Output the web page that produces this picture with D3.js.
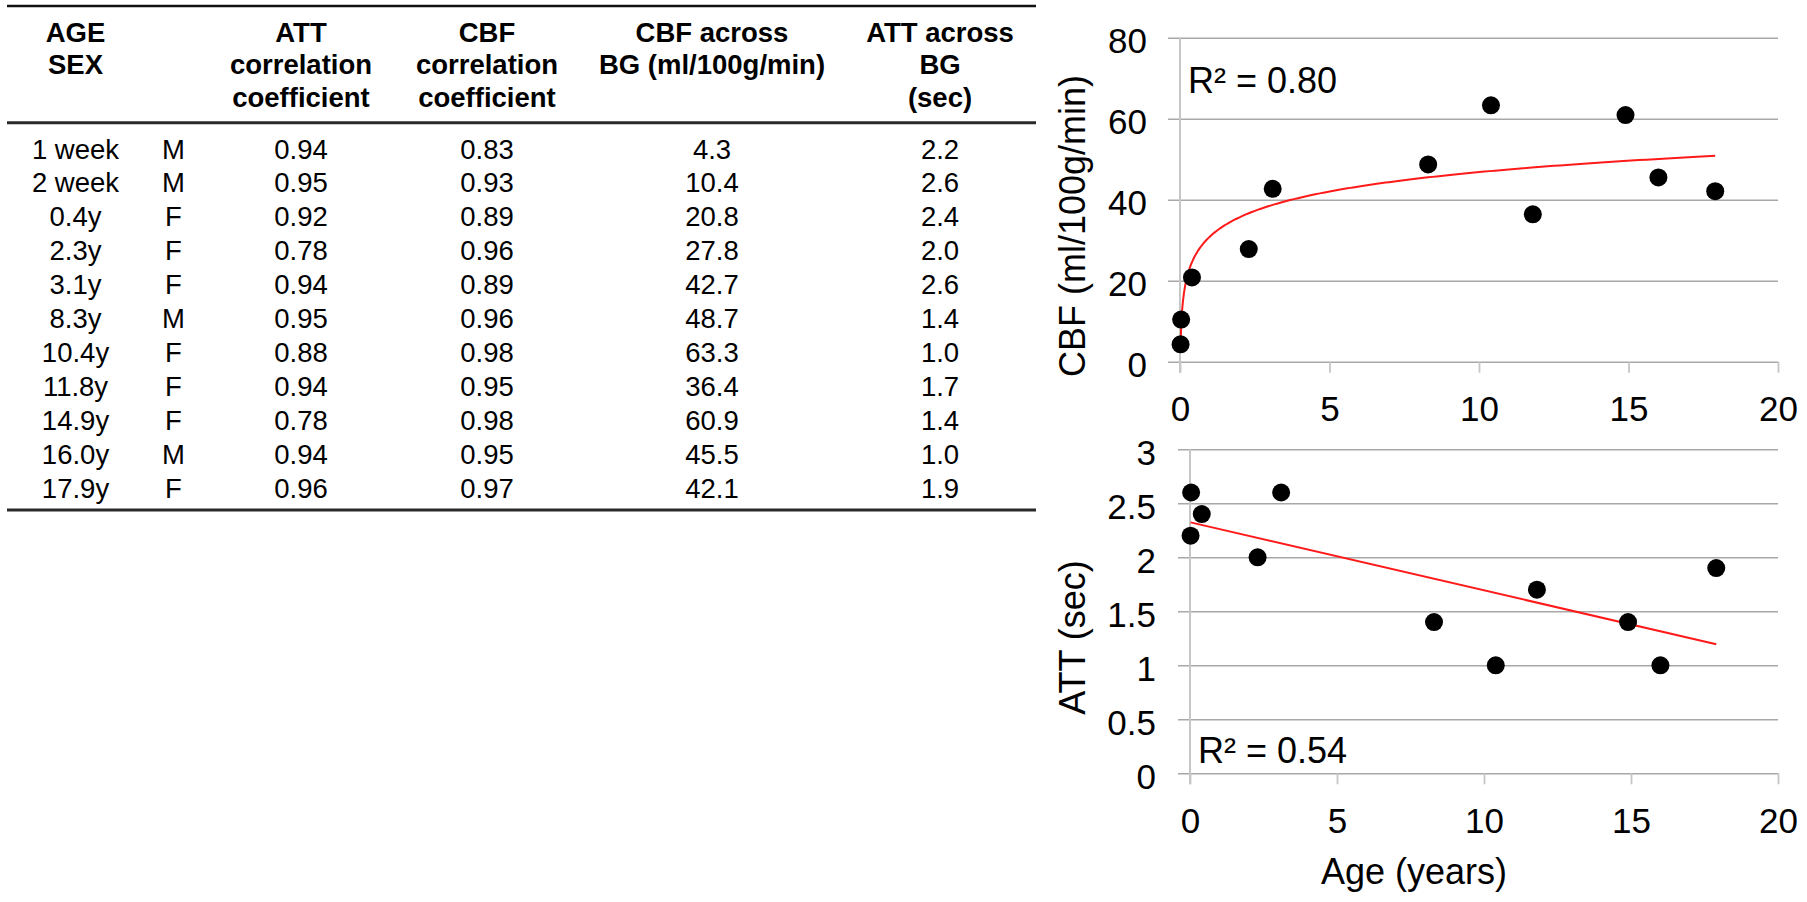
<!DOCTYPE html>
<html>
<head>
<meta charset="utf-8">
<script src="https://cdn.jsdelivr.net/npm/d3@7/dist/d3.min.js"></script>
<style>
  html, body { margin: 0; padding: 0; background: #fff; }
  svg { display: block; }
  text { font-family: "Liberation Sans", Arial, Helvetica, sans-serif; fill: #000; }
</style>
</head>
<body>
<svg id="chart" width="1807" height="902"></svg>
<script>
// ---------------- DATA ----------------
const ageLabels = ["1 week", "2 week", "0.4y", "2.3y", "3.1y", "8.3y", "10.4y", "11.8y", "14.9y", "16.0y", "17.9y"];
const sexLabels = ["M", "M", "F", "F", "F", "M", "F", "F", "F", "M", "F"];
const attCorr   = ["0.94", "0.95", "0.92", "0.78", "0.94", "0.95", "0.88", "0.94", "0.78", "0.94", "0.96"];
const cbfCorr   = ["0.83", "0.93", "0.89", "0.96", "0.89", "0.96", "0.98", "0.95", "0.98", "0.95", "0.97"];
const cbfBG     = [4.3, 10.4, 20.8, 27.8, 42.7, 48.7, 63.3, 36.4, 60.9, 45.5, 42.1];
const attBG     = [2.2, 2.6, 2.4, 2.0, 2.6, 1.4, 1.0, 1.7, 1.4, 1.0, 1.9];
const ageYears  = [7 / 365, 14 / 365, 0.4, 2.3, 3.1, 8.3, 10.4, 11.8, 14.9, 16.0, 17.9];

const headerLines = [
  ["AGE", "SEX"],
  [],
  ["ATT", "correlation", "coefficient"],
  ["CBF", "correlation", "coefficient"],
  ["CBF across", "BG (ml/100g/min)"],
  ["ATT across", "BG", "(sec)"]
];
const xTicks   = [0, 5, 10, 15, 20];
const cbfTicks = [0, 20, 40, 60, 80];
const attTicks = [0, 0.5, 1, 1.5, 2, 2.5, 3];
const cbfR2Label = "R² = 0.80";
const attR2Label = "R² = 0.54";
const cbfYTitle = "CBF (ml/100g/min)";
const attYTitle = "ATT (sec)";
const xTitle = "Age (years)";

// ---------------- LAYOUT ----------------
const svg = d3.select("#chart");
const FONT_T = 27.5;
const colX = [75.5, 173.5, 301, 487, 712, 940];
const tableLeft = 7, tableRight = 1036;
const headBase = [42, 74, 106.5];
const rowBase0 = 158.5, rowStep = 33.9;

// table rules
[[6, 2.5, "#111"], [122.7, 3, "#2a2a2a"], [510, 3, "#2a2a2a"]].forEach(([y, w, c]) => {
  svg.append("line").attr("x1", tableLeft).attr("x2", tableRight)
    .attr("y1", y).attr("y2", y).attr("stroke", c).attr("stroke-width", w);
});

// header
headerLines.forEach((lines, ci) => {
  lines.forEach((t, li) => {
    svg.append("text").attr("x", colX[ci]).attr("y", headBase[li])
      .attr("text-anchor", "middle").attr("font-weight", "bold")
      .attr("font-size", FONT_T).text(t);
  });
});

// rows
const cols = [ageLabels, sexLabels, attCorr, cbfCorr, cbfBG.map(d => d.toFixed(1)), attBG.map(d => d.toFixed(1))];
cols.forEach((col, ci) => {
  svg.append("g").selectAll("text").data(col).join("text")
    .attr("x", colX[ci]).attr("y", (d, i) => rowBase0 + rowStep * i)
    .attr("text-anchor", "middle").attr("font-size", FONT_T).text(d => d);
});

// ---------------- CHARTS ----------------
const FONT_C = 35;
const GRID = "#a8a8a8", AXIS = "#c6c6c6";

function regressionLinear(xs, ys) {
  const n = xs.length, mx = d3.mean(xs), my = d3.mean(ys);
  let sxy = 0, sxx = 0;
  for (let i = 0; i < n; i++) { sxy += (xs[i] - mx) * (ys[i] - my); sxx += (xs[i] - mx) ** 2; }
  const a = sxy / sxx; return { a, b: my - a * mx };
}

function drawPanel(opt) {
  const g = svg.append("g");
  const x = d3.scaleLinear().domain([0, 20]).range([opt.x0, opt.x1]);
  const y = d3.scaleLinear().domain(opt.yDomain).range([opt.yBottom, opt.yTop]);
  const gridStart = opt.x0 - 12;

  // y axis gridlines + labels
  const yAx = g.append("g").attr("transform", `translate(${gridStart},0)`)
    .call(d3.axisLeft(y).tickValues(opt.yTicks).tickSize(-(opt.x1 - gridStart)).tickSizeOuter(0)
      .tickPadding(opt.yPad).tickFormat(d => String(d)));
  yAx.select(".domain").remove();
  yAx.selectAll(".tick line").attr("stroke", GRID).attr("stroke-width", 1.4);
  yAx.selectAll(".tick text").attr("font-size", FONT_C).attr("dy", "0.43em")
    .style("font-family", '"Liberation Sans", Arial, sans-serif').attr("fill", "#000");

  // x axis ticks + labels
  const xAx = g.append("g").attr("transform", `translate(0,${opt.yBottom})`)
    .call(d3.axisBottom(x).tickValues(xTicks).tickSize(11).tickSizeOuter(0).tickPadding(opt.xPad));
  xAx.select(".domain").remove();
  xAx.selectAll(".tick line").attr("stroke", AXIS).attr("stroke-width", 1.8);
  xAx.selectAll(".tick text").attr("font-size", FONT_C)
    .style("font-family", '"Liberation Sans", Arial, sans-serif').attr("fill", "#000");

  // vertical axis line
  g.append("line").attr("x1", x(0)).attr("x2", x(0)).attr("y1", opt.yTop).attr("y2", opt.yBottom + 11)
    .attr("stroke", AXIS).attr("stroke-width", 2);

  // trendline
  const lineGen = d3.line().x(d => x(d[0])).y(d => y(d[1]));
  g.append("path").datum(opt.trend).attr("d", lineGen)
    .attr("fill", "none").attr("stroke", "#ff1a1a").attr("stroke-width", 2);

  // points
  g.append("g").selectAll("circle").data(opt.values).join("circle")
    .attr("cx", (d, i) => x(ageYears[i])).attr("cy", d => y(d)).attr("r", 9).attr("fill", "#000");

  // R² label
  g.append("text").attr("x", opt.r2x).attr("y", opt.r2y).attr("font-size", 36).text(opt.r2);

  // y title
  g.append("text").attr("transform", `translate(${opt.titleX},${opt.titleY}) rotate(-90)`)
    .attr("text-anchor", "middle").attr("font-size", 36).text(opt.yTitle);
  return { x, y };
}

// CBF: logarithmic trend (least squares on ln(age))
const lnAge = ageYears.map(Math.log);
const cbfFit = regressionLinear(lnAge, cbfBG);
const cbfTrendX = d3.range(0, 401).map(i => {
  const lo = Math.log(d3.min(ageYears)), hi = Math.log(d3.max(ageYears));
  return Math.exp(lo + (hi - lo) * i / 400);
});
const cbfTrend = cbfTrendX.map(a => [a, cbfFit.a * Math.log(a) + cbfFit.b]);

drawPanel({
  x0: 1180, x1: 1778, yTop: 37.7, yBottom: 361.7, yDomain: [0, 80], yTicks: cbfTicks,
  yPad: 21, xPad: 23, values: cbfBG, trend: cbfTrend,
  r2: cbfR2Label, r2x: 1188, r2y: 92.7, yTitle: cbfYTitle, titleX: 1085, titleY: 226
});

// ATT: linear trend
const attFit = regressionLinear(ageYears, attBG);
const attTrend = [d3.min(ageYears), d3.max(ageYears)].map(a => [a, attFit.a * a + attFit.b]);

drawPanel({
  x0: 1190, x1: 1778, yTop: 449.3, yBottom: 773.3, yDomain: [0, 3], yTicks: attTicks,
  yPad: 22, xPad: 24, values: attBG, trend: attTrend,
  r2: attR2Label, r2x: 1198, r2y: 762.7, yTitle: attYTitle, titleX: 1085, titleY: 637.5
});

// x title
svg.append("text").attr("x", 1414).attr("y", 884).attr("text-anchor", "middle")
  .attr("font-size", 36).text(xTitle);
</script>
</body>
</html>
